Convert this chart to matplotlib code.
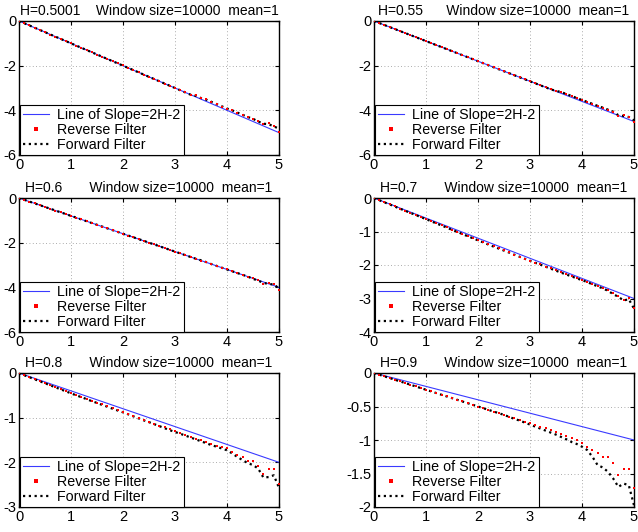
import numpy as np
import matplotlib
matplotlib.use("Agg")
import matplotlib.pyplot as plt

plt.rcParams['font.family'] = ['Liberation Sans', 'DejaVu Sans']
plt.rcParams['axes.unicode_minus'] = False

# log10 lag positions (0 .. 5, step 0.1)
log_lag = np.round(np.arange(51) * 0.1, 1)

hurst = [0.5001, 0.55, 0.6, 0.7, 0.8, 0.9]
titles = [
    "H=0.5001    Window size=10000  mean=1",
    "H=0.55      Window size=10000  mean=1",
    "H=0.6       Window size=10000  mean=1",
    "H=0.7       Window size=10000  mean=1",
    "H=0.8       Window size=10000  mean=1",
    "H=0.9       Window size=10000  mean=1",
]
ylims = [(-6, 0), (-6, 0), (-6, 0), (-4, 0), (-3, 0), (-2, 0)]
yticks = [
    [-6, -4, -2, 0],
    [-6, -4, -2, 0],
    [-6, -4, -2, 0],
    [-4, -3, -2, -1, 0],
    [-3, -2, -1, 0],
    [-2, -1.5, -1, -0.5, 0],
]

rev1 = [0, -0.1, -0.2, -0.31, -0.4, -0.5, -0.61, -0.7, -0.8, -0.9,
        -1.0, -1.1, -1.21, -1.3, -1.4, -1.5, -1.6, -1.7, -1.81, -1.9,
        -1.99, -2.1, -2.2, -2.3, -2.4, -2.5, -2.6, -2.7, -2.8, -2.9,
        -3.0, -3.09, -3.2, -3.3, -3.33, -3.45, -3.5, -3.62, -3.72, -3.83,
        -3.93, -4.0, -4.1, -4.2, -4.3, -4.38, -4.48, -4.62, -4.58, -4.7, -4.95]
fwd1 = [0, -0.1, -0.2, -0.3, -0.4, -0.5, -0.6, -0.7, -0.8, -0.9,
        -1.0, -1.1, -1.2, -1.3, -1.4, -1.5, -1.6, -1.7, -1.8, -1.9,
        -2.0, -2.1, -2.2, -2.3, -2.4, -2.5, -2.6, -2.7, -2.8, -2.9,
        -3.0, -3.1, -3.2, -3.3, -3.35, -3.45, -3.52, -3.62, -3.72, -3.82,
        -3.92, -4.0, -4.1, -4.2, -4.3, -4.38, -4.5, -4.6, -4.62, -4.72, -4.82]

rev2 = [0, -0.09, -0.18, -0.27, -0.36, -0.45, -0.54, -0.63, -0.72, -0.81,
        -0.9, -0.99, -1.08, -1.17, -1.26, -1.35, -1.44, -1.53, -1.62, -1.71,
        -1.8, -1.89, -1.98, -2.07, -2.16, -2.25, -2.34, -2.43, -2.52, -2.61,
        -2.7, -2.79, -2.88, -2.97, -3.05, -3.14, -3.16, -3.27, -3.36, -3.45,
        -3.55, -3.62, -3.71, -3.8, -3.89, -3.97, -4.07, -4.25, -4.22, -4.28, -4.5]
fwd2 = [0, -0.09, -0.18, -0.27, -0.36, -0.45, -0.54, -0.63, -0.72, -0.81,
        -0.9, -0.99, -1.08, -1.17, -1.26, -1.35, -1.44, -1.53, -1.62, -1.71,
        -1.8, -1.89, -1.98, -2.07, -2.16, -2.25, -2.34, -2.43, -2.52, -2.61,
        -2.7, -2.79, -2.88, -2.97, -3.06, -3.13, -3.18, -3.27, -3.36, -3.45,
        -3.54, -3.62, -3.71, -3.8, -3.88, -3.97, -4.06, -4.22, -4.25, -4.3, -4.45]

rev3 = [0, -0.08, -0.16, -0.24, -0.32, -0.4, -0.48, -0.56, -0.64, -0.72,
        -0.8, -0.88, -0.96, -1.04, -1.12, -1.2, -1.28, -1.36, -1.44, -1.52,
        -1.6, -1.68, -1.76, -1.84, -1.92, -2.0, -2.08, -2.16, -2.24, -2.32,
        -2.4, -2.48, -2.56, -2.64, -2.72, -2.8, -2.86, -2.96, -3.04, -3.12,
        -3.2, -3.28, -3.36, -3.44, -3.52, -3.6, -3.67, -3.84, -3.82, -3.84, -4.1]
fwd3 = [0, -0.08, -0.16, -0.24, -0.32, -0.4, -0.48, -0.56, -0.64, -0.72,
        -0.8, -0.88, -0.96, -1.04, -1.12, -1.2, -1.28, -1.36, -1.44, -1.52,
        -1.6, -1.68, -1.76, -1.84, -1.92, -2.0, -2.08, -2.16, -2.24, -2.32,
        -2.4, -2.48, -2.56, -2.64, -2.72, -2.79, -2.87, -2.96, -3.04, -3.12,
        -3.2, -3.28, -3.36, -3.44, -3.52, -3.62, -3.7, -3.8, -3.85, -3.87, -4.05]

rev4 = [0, -0.06, -0.125, -0.19, -0.25, -0.315, -0.38, -0.44, -0.5, -0.565,
        -0.63, -0.69, -0.755, -0.82, -0.88, -0.945, -1.01, -1.07, -1.135, -1.2,
        -1.26, -1.32, -1.385, -1.445, -1.505, -1.565, -1.625, -1.69, -1.75, -1.81,
        -1.87, -1.93, -1.985, -2.045, -2.1, -2.16, -2.22, -2.28, -2.33, -2.39,
        -2.44, -2.5, -2.57, -2.62, -2.69, -2.75, -2.84, -2.93, -3.04, -2.98, -3.27]
fwd4 = [0, -0.065, -0.13, -0.19, -0.255, -0.32, -0.38, -0.445, -0.505, -0.57,
        -0.63, -0.695, -0.76, -0.82, -0.885, -0.95, -1.01, -1.075, -1.14, -1.2,
        -1.265, -1.325, -1.39, -1.45, -1.51, -1.57, -1.63, -1.695, -1.755, -1.815,
        -1.875, -1.935, -1.99, -2.05, -2.11, -2.17, -2.23, -2.285, -2.34, -2.4,
        -2.45, -2.51, -2.575, -2.635, -2.7, -2.77, -2.87, -2.95, -3.06, -3.02, -3.3]

rev5 = [0, -0.045, -0.09, -0.135, -0.18, -0.225, -0.27, -0.315, -0.36, -0.405,
        -0.45, -0.49, -0.535, -0.575, -0.62, -0.665, -0.705, -0.745, -0.79, -0.83,
        -0.87, -0.915, -0.96, -1.0, -1.05, -1.09, -1.135, -1.18, -1.22, -1.26,
        -1.3, -1.345, -1.385, -1.43, -1.47, -1.51, -1.55, -1.6, -1.63, -1.66,
        -1.69, -1.76, -1.83, -1.88, -1.97, -1.96, -2.08, -2.25, -2.16, -2.16, -2.48]
fwd5 = [0, -0.05, -0.095, -0.14, -0.185, -0.23, -0.275, -0.32, -0.365, -0.41,
        -0.455, -0.5, -0.54, -0.585, -0.63, -0.67, -0.715, -0.755, -0.8, -0.84,
        -0.88, -0.925, -0.97, -1.015, -1.06, -1.1, -1.145, -1.19, -1.235, -1.28,
        -1.32, -1.36, -1.4, -1.445, -1.485, -1.53, -1.57, -1.615, -1.65, -1.69,
        -1.73, -1.8, -1.88, -1.95, -2.02, -2.06, -2.14, -2.34, -2.33, -2.29, -2.57]

rev6 = [0, -0.025, -0.05, -0.075, -0.1, -0.125, -0.15, -0.175, -0.2, -0.225,
        -0.25, -0.275, -0.3, -0.325, -0.35, -0.375, -0.4, -0.425, -0.45, -0.475,
        -0.5, -0.525, -0.55, -0.575, -0.6, -0.625, -0.65, -0.675, -0.7, -0.725,
        -0.75, -0.775, -0.8, -0.825, -0.85, -0.875, -0.905, -0.935, -0.97, -1.0,
        -1.04, -1.1, -1.15, -1.19, -1.26, -1.26, -1.34, -1.52, -1.44, -1.44, -1.72]
fwd6 = [0, -0.025, -0.05, -0.075, -0.1, -0.125, -0.15, -0.175, -0.2, -0.225,
        -0.25, -0.275, -0.3, -0.325, -0.35, -0.375, -0.4, -0.425, -0.45, -0.475,
        -0.5, -0.525, -0.55, -0.575, -0.6, -0.625, -0.655, -0.685, -0.71, -0.74,
        -0.77, -0.8, -0.83, -0.86, -0.89, -0.92, -0.955, -0.99, -1.03, -1.06,
        -1.1, -1.15, -1.25, -1.375, -1.41, -1.475, -1.575, -1.7, -1.65, -1.675, -1.975]

reverse = [rev1, rev2, rev3, rev4, rev5, rev6]
forward = [fwd1, fwd2, fwd3, fwd4, fwd5, fwd6]

fig = plt.figure(figsize=(6.38, 5.32), dpi=100)

lefts = [19 / 638, 374 / 638]
bottoms = [1 - 155 / 532, 1 - 332 / 532, 1 - 507 / 532]
w, h = 260 / 638, 134 / 532

for i in range(6):
    ax = fig.add_axes([lefts[i % 2], bottoms[i // 2], w, h])
    xline = np.array([0, 5])
    ax.plot(xline, (2 * hurst[i] - 2) * xline, color='#3a3aff', lw=0.8,
            label='Line of Slope=2H-2', zorder=2)
    ax.plot(log_lag, reverse[i], ls='none', marker='s', ms=2.0, mew=0,
            color='#ff0000', label='Reverse Filter', zorder=4)
    ax.plot(log_lag, forward[i], ls=(0, (1, 1.6)), lw=1.6, color='black',
            label='Forward Filter', zorder=3)

    ax.set_xlim(0, 5)
    ax.set_ylim(*ylims[i])
    ax.set_xticks([0, 1, 2, 3, 4, 5])
    ax.set_yticks(yticks[i])
    ax.set_yticklabels([f"{t:g}" for t in yticks[i]])
    ax.grid(True, ls=(0, (1, 3)), color='#909090', lw=0.6)
    ax.tick_params(direction='in', length=3, labelsize=10.5, pad=2,
                   top=True, right=True)
    for sp in ax.spines.values():
        sp.set_linewidth(1.0)
    ax.set_title(titles[i], fontsize=10, pad=4)

    leg = ax.legend(loc='lower left', bbox_to_anchor=(0.005, 0.0),
                    borderaxespad=0, fancybox=False, fontsize=10.3,
                    handlelength=1.8, handletextpad=0.6, labelspacing=0.08,
                    borderpad=0.2, markerscale=1.2, numpoints=1)
    leg.get_frame().set_edgecolor('black')
    leg.get_frame().set_linewidth(0.8)
    leg.get_frame().set_alpha(1)

fig.savefig("out.png", dpi=100)
